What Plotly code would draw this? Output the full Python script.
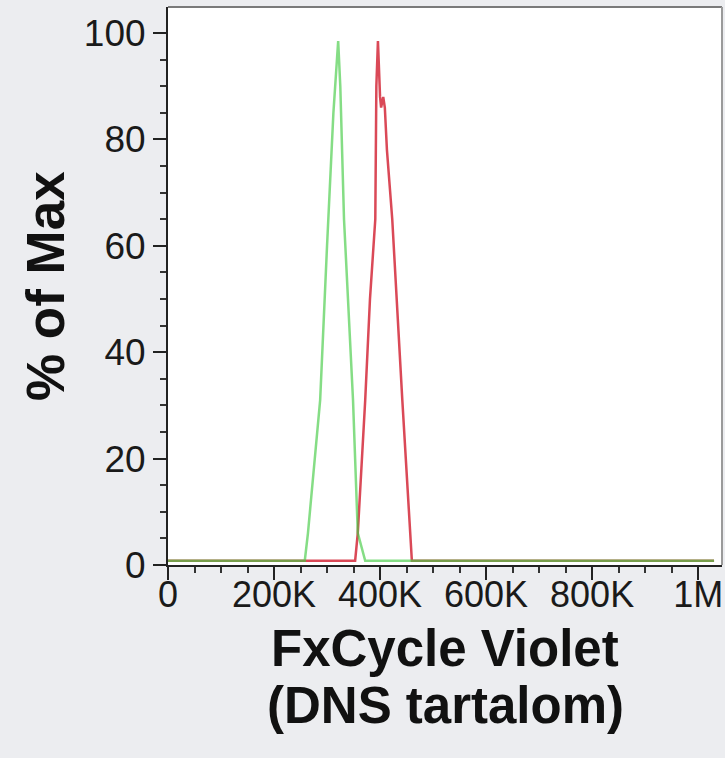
import plotly.graph_objects as go

# ---- data ----
green_x = [0, 258000, 264000, 287000, 300000, 312000, 321000, 325000, 332000, 349000, 358000, 372000, 1030000]
green_y = [0.8, 0.8, 6, 31, 60, 85, 98.5, 90, 65, 31, 6, 0.8, 0.8]

red_x = [0, 353000, 358000, 372000, 381000, 391000, 393000, 396000, 400000, 402000, 406000, 409000, 413000, 423000, 442000, 457000, 460000, 1030000]
red_y = [0.8, 0.8, 6, 31, 50, 65, 90, 98.5, 88, 86, 88, 86, 78, 65, 31, 6, 0.8, 0.8]

x_tickvals = [0, 200000, 400000, 600000, 800000, 1000000]
x_ticktext = ["0", "200K", "400K", "600K", "800K", "1M"]
y_tickvals = [0, 20, 40, 60, 80, 100]
y_ticktext = ["0", "20", "40", "60", "80", "100"]

x_title_lines = ["FxCycle Violet", "(DNS tartalom)"]
y_title = "% of Max"

FONT = "Liberation Sans, Arial, sans-serif"

fig = go.Figure()
fig.add_trace(go.Scatter(x=red_x, y=red_y, mode="lines",
                         line=dict(color="#D42A3A", width=2.5), opacity=0.85,
                         hoverinfo="skip", showlegend=False))
fig.add_trace(go.Scatter(x=green_x, y=green_y, mode="lines",
                         line=dict(color="#45CC45", width=2.5), opacity=0.65,
                         hoverinfo="skip", showlegend=False))

fig.update_layout(
    width=725, height=758,
    margin=dict(l=168, r=3, t=7, b=193),
    paper_bgcolor="#ECEDF0",
    plot_bgcolor="#FFFFFF",
    font=dict(family=FONT, color="#1A1A1A"),
    showlegend=False,
)

fig.update_xaxes(
    range=[0, 1045000],
    tickmode="array", tickvals=x_tickvals, ticktext=x_ticktext,
    ticks="outside", ticklen=13, tickwidth=2, tickcolor="#222",
    tickfont=dict(size=36, family=FONT, color="#1A1A1A"),
    ticklabelstandoff=-16,
    showline=True, linecolor="#222", linewidth=2,
    showgrid=False, zeroline=False,
    minor=dict(tickmode="linear", tick0=0, dtick=50000, ticks="outside",
               ticklen=6, tickwidth=2, tickcolor="#333", showgrid=False),
)
fig.update_yaxes(
    range=[0, 104.9],
    tickmode="array", tickvals=y_tickvals, ticktext=y_ticktext,
    ticks="outside", ticklen=13, tickwidth=2, tickcolor="#222",
    tickfont=dict(size=37, family=FONT, color="#1A1A1A"),
    showline=True, linecolor="#222", linewidth=2,
    showgrid=False, zeroline=False,
    minor=dict(tickmode="linear", tick0=0, dtick=5, ticks="outside",
               ticklen=6, tickwidth=2, tickcolor="#333", showgrid=False),
)

# top and right border of the plot frame (gray)
fig.add_shape(type="line", xref="paper", yref="paper", x0=0, x1=1, y0=1, y1=1,
              line=dict(color="#7A7A7A", width=2))
fig.add_shape(type="line", xref="paper", yref="paper", x0=1, x1=1, y0=0, y1=1,
              line=dict(color="#9A9A9A", width=2))

# axis titles
fig.add_annotation(text="<b>%s</b>" % y_title, xref="paper", yref="paper",
                   x=0, y=0.5, xanchor="center", yanchor="middle", xshift=-123,
                   textangle=-90, showarrow=False,
                   font=dict(size=53, family=FONT, color="#111"))
for i, line in enumerate(x_title_lines):
    fig.add_annotation(text="<b>%s</b>" % line, xref="paper", yref="paper",
                       x=0.5, y=0, xanchor="center", yanchor="middle",
                       yshift=-83 - 57 * i, showarrow=False,
                       font=dict(size=51, family=FONT, color="#111"))

fig.write_html("out.html")
